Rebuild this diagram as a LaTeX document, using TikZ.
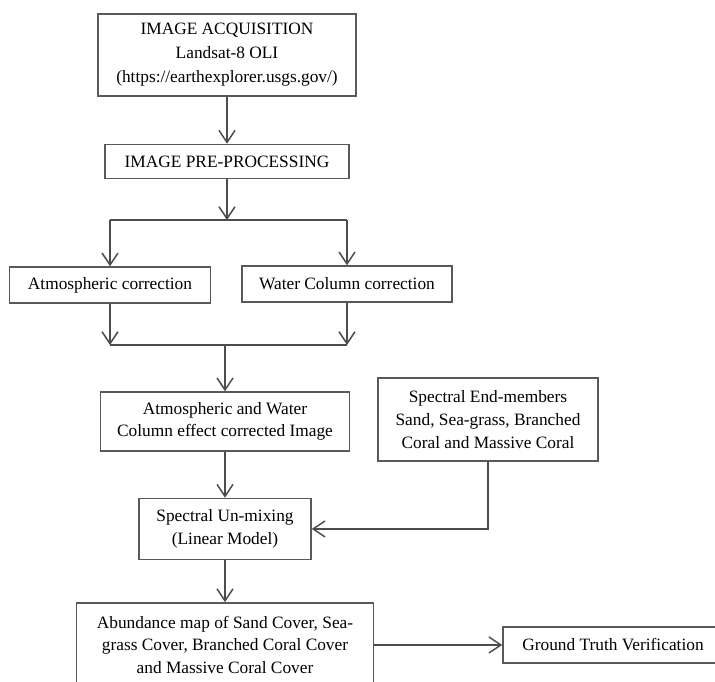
\documentclass[tikz,border=0pt]{standalone}
\usepackage{fontspec}
\setmainfont{Liberation Serif}
\usepackage{tikz}
\usetikzlibrary{arrows.meta,positioning}
\tikzset
{
    flowbox/.style = {rectangle, draw=black!65, line width=1.1pt, align=center,
                          inner sep=2pt, anchor=center,
                          font=\fontsize{13pt}{17pt}\selectfont},
    flowline/.style = {draw=black!70, line width=1.1pt},
    flowarrow/.style = {flowline, -{Straight Barb[length=9pt, width=12pt]}}
}

\begin{document}
\begin{tikzpicture}[
        % One unit is one pixel of the reference, y pointing down:
        x=0.75pt, y=-0.75pt,
        every node/.style={flowbox}
      ]
        \clip (0,0) rectangle (715,682);
        % Main column
        \node[minimum width=193.5pt, minimum height=61.5pt,
              font=\fontsize{13pt}{18pt}\selectfont] (acq) at (227,55)
            {IMAGE ACQUISITION\\Landsat-8 OLI\\(https://earthexplorer.usgs.gov/)};
        \node[minimum width=183pt, minimum height=25.5pt, below=35.25pt of acq] (pre)
            {IMAGE PRE-PROCESSING};
        \node[minimum width=150.75pt, minimum height=27pt] (atm) at (110,285)
            {Atmospheric correction};
        \node[minimum width=157.5pt, minimum height=27pt] (wcc) at (347,284)
            {Water Column correction};
        \node[minimum width=186.75pt, minimum height=44.25pt] (awc) at (225,421.5)
            {Atmospheric and Water\\Column effect corrected Image};
        \node[minimum width=165pt, minimum height=62.25pt] (endm) at (488,419.5)
            {Spectral End-members\\Sand, Sea-grass, Branched\\Coral and Massive Coral};
        \node[minimum width=129pt, minimum height=45.75pt, below=34.5pt of awc] (unmix)
            {Spectral Un-mixing\\(Linear Model)};
        \node[minimum width=222.75pt, minimum height=63pt, below=31.5pt of unmix] (abund)
            {Abundance map of Sand Cover, Sea-\\grass Cover, Branched Coral Cover\\and Massive Coral Cover};
        \node[minimum width=165pt, minimum height=27pt, right=96pt of abund] (gtv)
            {Ground Truth Verification};
        % Split and merge points
        \coordinate (split) at (pre.south |- 0,220);
        \coordinate (merge) at (awc.north |- 0,345);
        \draw[flowarrow] (pre.south) -- (split);
        \draw[flowline] (atm.north |- split) -- (wcc.north |- split);
        \draw[flowarrow] (atm.north |- split) -- (atm.north);
        \draw[flowarrow] (wcc.north |- split) -- (wcc.north);
        \draw[flowarrow] (atm.south) -- (atm.south |- merge);
        \draw[flowarrow] (wcc.south) -- (wcc.south |- merge);
        \draw[flowline] (atm.south |- merge) -- (wcc.south |- merge);
        \draw[flowarrow] (merge) -- (awc.north);
        \draw[flowarrow] (acq) -- (pre);
        \draw[flowarrow] (awc) -- (unmix);
        \draw[flowarrow] (unmix) -- (abund);
        \draw[flowarrow] (endm.south) |- (unmix.east);
        \draw[flowarrow] (abund) -- (gtv);
    \end{tikzpicture}
\end{document}
